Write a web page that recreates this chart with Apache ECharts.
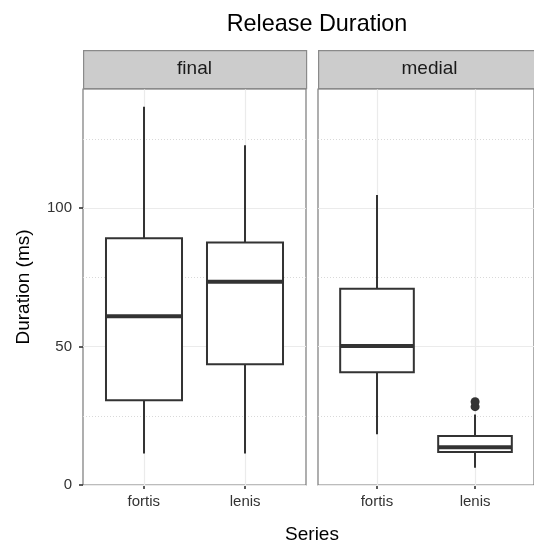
<!DOCTYPE html>
<html>
<head>
<meta charset="utf-8">
<script src="https://cdn.jsdelivr.net/npm/echarts@6/dist/echarts.min.js"></script>
<style>
  html, body { margin: 0; padding: 0; background: #fff; }
  #chart { width: 534px; height: 546px; }
</style>
</head>
<body>
<div id="chart"></div>
<script>
// Facet panels and the categories inside each panel
const panels = ['final', 'medial'];
const categories = ['fortis', 'lenis'];

// Box statistics per category: [min whisker, Q1, median, Q3, max whisker] (ms)
const finalStats = [
  [11.4, 30.6, 60.9, 89.1, 136.6],
  [11.4, 43.6, 73.4, 87.6, 122.7]
];
const medialStats = [
  [18.3, 40.7, 50.2, 70.9, 104.7],
  [6.2, 11.9, 13.6, 17.7, 25.5]
];

// Outlying points: [category position, duration]
const finalOutliers = [];
const medialOutliers = [
  [2, 28.3],
  [2, 30.1]
];

// Axis ticks and grid lines
const yTicks = [0, 50, 100];
const yMinor = [25, 75, 125];
const xTicks = [1, 2];

const FONT = '"Liberation Sans", Arial, Helvetica, sans-serif';
const INK = '#333333';
const BOX_WIDTH = 0.75;

const panelLeft = [83, 318];
const panelWidth = 223;
const panelTop = 89;
const panelHeight = 396;

function renderBox(params, api) {
  const x = api.value(0);
  const lo = api.coord([x, api.value(1)]);
  const q1 = api.coord([x, api.value(2)]);
  const md = api.coord([x, api.value(3)]);
  const q3 = api.coord([x, api.value(4)]);
  const hi = api.coord([x, api.value(5)]);
  const half = api.size([BOX_WIDTH, 0])[0] / 2;
  const cx = Math.round(md[0]);
  const stroke = { stroke: INK, lineWidth: 2 };
  return {
    type: 'group',
    children: [
      { type: 'line', shape: { x1: cx, y1: hi[1], x2: cx, y2: q3[1] }, style: stroke },
      { type: 'line', shape: { x1: cx, y1: q1[1], x2: cx, y2: lo[1] }, style: stroke },
      { type: 'rect', shape: { x: cx - half, y: q3[1], width: 2 * half, height: q1[1] - q3[1] },
        style: { fill: '#ffffff', stroke: INK, lineWidth: 2 } },
      { type: 'line', shape: { x1: cx - half, y1: md[1], x2: cx + half, y2: md[1] },
        style: { stroke: INK, lineWidth: 4 } }
    ]
  };
}

const statsByPanel = [finalStats, medialStats];
const outliersByPanel = [finalOutliers, medialOutliers];

const grids = panels.map((p, i) => ({
  left: panelLeft[i], top: panelTop, width: panelWidth, height: panelHeight,
  show: true, borderColor: '#7a7a7a', borderWidth: 1.2, backgroundColor: '#ffffff'
}));

const xAxes = panels.map((p, i) => ({
  type: 'value', gridIndex: i, min: 0.4, max: 2.6,
  axisLine: { show: false },
  splitLine: { show: false },
  axisTick: { show: true, customValues: xTicks, length: 4, lineStyle: { color: INK, width: 1.6 } },
  axisLabel: {
    customValues: xTicks, margin: 9, color: '#333333', fontSize: 15, fontFamily: FONT,
    formatter: v => categories[Math.round(v) - 1]
  }
}));

const yAxes = panels.map((p, i) => ({
  type: 'value', gridIndex: i, min: 0, max: 143,
  axisLine: { show: false },
  splitLine: { show: false },
  axisTick: { show: i === 0, customValues: yTicks, length: 4, lineStyle: { color: INK, width: 1.6 } },
  axisLabel: {
    show: i === 0, customValues: yTicks, margin: 11, color: '#333333', fontSize: 15, fontFamily: FONT
  },
  name: i === 0 ? 'Duration (ms)' : '',
  nameLocation: 'middle', nameGap: 50, nameRotate: 90,
  nameTextStyle: { color: '#000', fontSize: 19, fontFamily: FONT }
}));

const series = [];
panels.forEach((p, i) => {
  // grid lines drawn beneath the boxes
  series.push({
    type: 'line', xAxisIndex: i, yAxisIndex: i, data: [], z: 1, silent: true,
    markLine: {
      z: 1, silent: true, symbol: ['none', 'none'], animation: false,
      label: { show: false },
      data: [
        ...yMinor.map(v => ({ yAxis: v, lineStyle: { color: '#d9d9d9', width: 1, type: [1, 2] } })),
        ...yTicks.map(v => ({ yAxis: v, lineStyle: { color: '#ebebeb', width: 1, type: 'solid' } })),
        ...xTicks.map(v => ({ xAxis: v, lineStyle: { color: '#ebebeb', width: 1.2, type: 'solid' } }))
      ]
    }
  });
  series.push({
    type: 'custom', xAxisIndex: i, yAxisIndex: i, z: 3, silent: true,
    renderItem: renderBox,
    encode: { x: 0, y: [1, 2, 3, 4, 5] },
    data: statsByPanel[i].map((s, k) => [xTicks[k], ...s])
  });
  series.push({
    type: 'scatter', xAxisIndex: i, yAxisIndex: i, z: 4, silent: true,
    symbolSize: 9, itemStyle: { color: INK, opacity: 1 },
    data: outliersByPanel[i]
  });
});

// facet strips above each panel
const graphics = [];
panels.forEach((p, i) => {
  graphics.push({
    type: 'rect', left: panelLeft[i], top: 50,
    shape: { width: panelWidth, height: 38 },
    style: { fill: '#cccccc', stroke: '#8a8a8a', lineWidth: 1.2 }, z: 10
  });
  graphics.push({
    type: 'text', x: panelLeft[i] + panelWidth / 2, y: 69,
    style: { text: p, fill: '#1a1a1a', font: '19px ' + FONT, textAlign: 'center', textVerticalAlign: 'middle' },
    z: 11
  });
});
graphics.push({
  type: 'text', x: 312, y: 535,
  style: { text: 'Series', fill: '#000', font: '19px ' + FONT, textAlign: 'center', textVerticalAlign: 'middle' }
});

const chart = echarts.init(document.getElementById('chart'), null, { renderer: 'canvas' });
chart.setOption({
  animation: false,
  backgroundColor: '#ffffff',
  title: {
    text: 'Release Duration', left: 312, top: 8, textAlign: 'center',
    textStyle: { color: '#000', fontSize: 23.4, fontWeight: 'normal', fontFamily: FONT }
  },
  grid: grids,
  xAxis: xAxes,
  yAxis: yAxes,
  series: series,
  graphic: graphics
});
</script>
</body>
</html>
